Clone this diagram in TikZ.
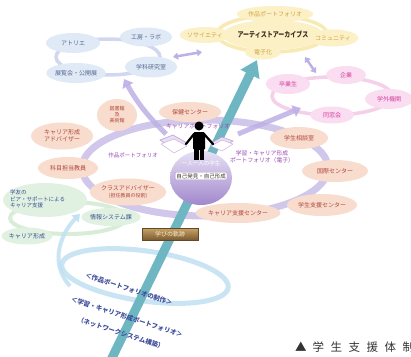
\documentclass[tikz,border=0pt]{standalone}
\usepackage{fontspec}
\setmainfont{Noto Sans CJK JP}
\usetikzlibrary{shapes.geometric,arrows.meta}

\definecolor{blueFill}{HTML}{E0EAF7}
\definecolor{blueText}{HTML}{56668F}
\definecolor{blueRing}{HTML}{CBD0EE}
\definecolor{yelFill}{HTML}{FBF0C6}
\definecolor{yelText}{HTML}{D2A444}
\definecolor{yelRing}{HTML}{F7E7A6}
\definecolor{titleText}{HTML}{3A3020}
\definecolor{pinkFill}{HTML}{FADDF0}
\definecolor{pinkText}{HTML}{D6409E}
\definecolor{pinkRing}{HTML}{F3C8E6}
\definecolor{peachFill}{HTML}{F8DCCE}
\definecolor{peachText}{HTML}{B0473A}
\definecolor{purpText}{HTML}{9A48B4}
\definecolor{bandCol}{HTML}{CABEE8}
\definecolor{greenFill}{HTML}{E0F1E2}
\definecolor{greenText}{HTML}{3A4E8E}
\definecolor{greenRing}{HTML}{D2EBD2}
\definecolor{skyRing}{HTML}{C0E0F2}
\definecolor{skyText}{HTML}{3E4E9C}
\definecolor{tealBar}{HTML}{6DB6C2}
\definecolor{lavArrow}{HTML}{BDB0E6}
\definecolor{sphereTop}{HTML}{E6E0F4}
\definecolor{sphereBot}{HTML}{A288CC}
\definecolor{btnTop}{HTML}{C9A466}
\definecolor{btnBot}{HTML}{7A5A30}
\definecolor{btnText}{HTML}{F8ECC8}

\tikzset{
  bub/.style={ellipse, inner sep=0pt, align=center, font=\fontsize{6}{7}\selectfont},
  bluebub/.style={bub, fill=blueFill, text=blueText},
  yelbub/.style={bub, fill=yelFill, text=yelText},
  pinkbub/.style={bub, fill=pinkFill, text=pinkText},
  peachbub/.style={bub, fill=peachFill, text=peachText},
  greenbub/.style={bub, fill=greenFill, text=greenText},
  ring/.style={line width=3.5pt, opacity=.85},
  dblarrow/.style={draw=lavArrow, line width=2.5pt,
    {Triangle[width=7pt,length=5pt]}-{Triangle[width=7pt,length=5pt]}},
  lavarrow/.style={draw=lavArrow, line width=5pt, opacity=.85,
    -{Triangle[width=12pt,length=8pt]}},
  purp/.style={text=purpText, font=\fontsize{5.8}{6.8}\selectfont, inner sep=0pt, align=center},
  slogan/.style={text=skyText, font=\bfseries\fontsize{6.5}{7.5}\selectfont, inner sep=0pt, rotate=-18},
}

\begin{document}
\begin{tikzpicture}[x=1pt,y=-1pt]
\useasboundingbox (0,0) rectangle (411,356);
\clip (0,0) rectangle (411,356);
\fill[white] (0,0) rectangle (411,356);

% ---- rings behind the groups ----
\draw[ring, blueRing] (108,57) ellipse [x radius=52, y radius=18];
\draw[ring, yelRing] (272,34) ellipse [x radius=55, y radius=18];
\draw[ring, pinkRing] (332,96) ellipse [x radius=60, y radius=19];
\draw[ring, greenRing, line width=4pt] (68,218) ellipse [x radius=58, y radius=16];
\draw[ring, skyRing, line width=5pt, rotate around={-8:(145,276)}] (145,276) ellipse [x radius=84, y radius=25];
\coordinate (skyFrom) at (70,286);
\coordinate (skyTo) at (80,214);
\draw[skyRing, line width=4pt, opacity=.85, -{Triangle[width=10pt,length=7pt]}]
  (skyFrom) .. controls (48,262) and (62,232) .. (skyTo);
\draw[bandCol, line width=7pt, opacity=.85] (205,168) ellipse [x radius=123, y radius=48];

% ---- workplaces ----
\node[bluebub, minimum width=54, minimum height=20] (atelier) at (73,43) {アトリエ};
\node[bluebub, minimum width=52, minimum height=19] (kobo) at (146,37) {工房・ラボ};
\node[bluebub, minimum width=58, minimum height=20] (tenran) at (76,73) {展覧会・公開展};
\node[bluebub, minimum width=52, minimum height=21] (gakka) at (151,67) {学科研究室};

% ---- archives ----
\node[yelbub, minimum width=100, minimum height=30] (archive) at (273,35)
  {\scalebox{0.8}[1]{\color{titleText}\bfseries\fontsize{7.5}{8}\selectfont アーティストアーカイブス}};
\node[yelbub, minimum width=68, minimum height=16] (sakuhinY) at (275,14) {作品ポートフォリオ};
\node[yelbub, minimum width=44, minimum height=16] (society) at (205,35) {ソサイエティ};
\node[yelbub, minimum width=46, minimum height=17] (community) at (333,38) {コミュニティ};
\node[yelbub, minimum width=36, minimum height=15] (denshi) at (263,52) {電子化};

% ---- outside partners ----
\node[pinkbub, minimum width=40, minimum height=18] (kigyo) at (346,75) {企業};
\node[pinkbub, minimum width=44, minimum height=20] (sotsu) at (288,84) {卒業生};
\node[pinkbub, minimum width=48, minimum height=20] (gakugai) at (389,99) {学外機関};
\node[pinkbub, minimum width=44, minimum height=17] (dosokai) at (332,115) {同窓会};

% ---- campus support ----
\node[peachbub, minimum width=40, minimum height=32, font=\fontsize{5}{6}\selectfont] (tosho) at (117,115) {図書館\\及\\美術館};
\node[peachbub, minimum width=62, minimum height=20] (hoken) at (190,112) {保健センター};
\node[peachbub, minimum width=62, minimum height=27] (careerAd) at (62,136) {キャリア形成\\アドバイザー};
\node[peachbub, minimum width=60, minimum height=22] (kamoku) at (68,168) {科目担当教員};
\node[peachbub, minimum width=58, minimum height=22] (soudan) at (299,138) {学生相談室};
\node[peachbub, minimum width=66, minimum height=22] (kokusai) at (335,171) {国際センター};
\node[peachbub, minimum width=70, minimum height=22] (shien) at (322,205) {学生支援センター};
\node[peachbub, minimum width=76, minimum height=20] (careerSC) at (238,213) {キャリア支援センター};
\node[peachbub, minimum width=68, minimum height=27] (classAd) at (128,192)
  {クラスアドバイザー\\{\fontsize{5}{6}\selectfont (担任教員の役割)}};

% ---- peer support ----
\fill[greenFill] (45,200) ellipse [x radius=42, y radius=17];
\node[text=greenText, font=\fontsize{5.5}{6.5}\selectfont, align=left, inner sep=0pt, anchor=west] (peer) at (10,199)
  {学友の\\ピア・サポートによる\\キャリア支援};
\node[greenbub, minimum width=56, minimum height=18] (johosys) at (111,217) {情報システム課};
\node[greenbub, minimum width=48, minimum height=17] (careerK) at (27,236) {キャリア形成};

% ---- links between groups ----
\coordinate (bl1) at (173,57);
\coordinate (bl2) at (202,52);
\draw[dblarrow] (bl1) -- (bl2);
\coordinate (yp1) at (305,57);
\coordinate (yp2) at (316,73);
\draw[dblarrow] (yp1) -- (yp2);

% ---- main axis ----
\coordinate (axisFrom) at (110,362);
\coordinate (axisTo) at (257,60);
\draw[tealBar, line width=9pt, -{Triangle[width=20pt,length=16pt]}] (axisFrom) -- (axisTo);

\coordinate (leftFrom) at (166,134);
\coordinate (leftTo) at (124,79);
\draw[lavarrow] (leftFrom) to[bend left=8] (leftTo);
\coordinate (rightFrom) at (238,134);
\coordinate (rightTo) at (301,108);
\draw[lavarrow] (rightFrom) -- (rightTo);

% ---- portfolio labels ----
\node[purp] (careerPF) at (198,126) {キャリアポートフォリオ};
\node[purp, font=\fontsize{5.5}{6.5}\selectfont] (sakuhinP) at (133,155) {作品ポートフォリオ};
\node[purp] (gakushuP) at (262,157) {学習・キャリア形成\\ポートフォリオ（電子）};

% ---- the student ----
\shade[top color=sphereTop, bottom color=sphereBot] (201,178) ellipse [x radius=31, y radius=27];
\node[text=white, font=\fontsize{5.5}{6.5}\selectfont, inner sep=0pt] (hitori) at (201,163) {一人一人の学生};
\node[fill=white, draw=sphereBot, rounded corners=1pt, text=titleText,
      font=\fontsize{5.5}{6.5}\selectfont, inner sep=1.2pt] (jiko) at (201,176) {自己発見・自己形成};

% open books
\fill[sphereTop, draw=purpText!60, line width=.5pt] (160,140) -- (173,135) -- (187,143) -- (174,150) -- cycle;
\fill[white, draw=purpText!50, line width=.4pt] (161,144) -- (174,139) -- (187,146) -- (174,153) -- cycle;
\fill[sphereTop, draw=purpText!60, line width=.5pt] (211,143) -- (222,137) -- (233,141) -- (222,148) -- cycle;
\fill[white, draw=purpText!50, line width=.4pt] (211,146) -- (222,140) -- (233,144) -- (222,151) -- cycle;
% figure
\fill[black] (199,126) circle [radius=4.5];
\fill[black, rounded corners=1.5pt] (193,132) rectangle (205,150);
\fill[black] (194,149) rectangle (198.5,160);
\fill[black] (199.5,149) rectangle (204,160);
\draw[black, line width=2.2pt, line cap=round] (194,134) -- (186,144);
\draw[black, line width=2.2pt, line cap=round] (204,134) -- (213,144);

% ---- badge ----
\node[draw=btnBot!80!black, line width=.8pt, top color=btnTop, bottom color=btnBot,
      text=btnText, font=\fontsize{6}{7}\selectfont, minimum width=56, minimum height=12,
      inner sep=0pt] (kiseki) at (170,234) {学びの軌跡};

% ---- network slogans ----
\node[slogan] (s1) at (129,289) {＜作品ポートフォリオの制作＞};
\node[slogan] (s2) at (127,317) {＜学習・キャリア形成ポートフォリオ＞};
\node[slogan] (s3) at (121,333) {（ネットワークシステム構築）};

% ---- caption ----
\node[anchor=west, inner sep=0pt, text=black!80, font=\fontsize{11.5}{13}\selectfont] (caption) at (295,347)
  {▲\hspace{6pt}学\hspace{6.5pt}生\hspace{6.5pt}支\hspace{6.5pt}援\hspace{6.5pt}体\hspace{6.5pt}制};
\end{tikzpicture}
\end{document}
